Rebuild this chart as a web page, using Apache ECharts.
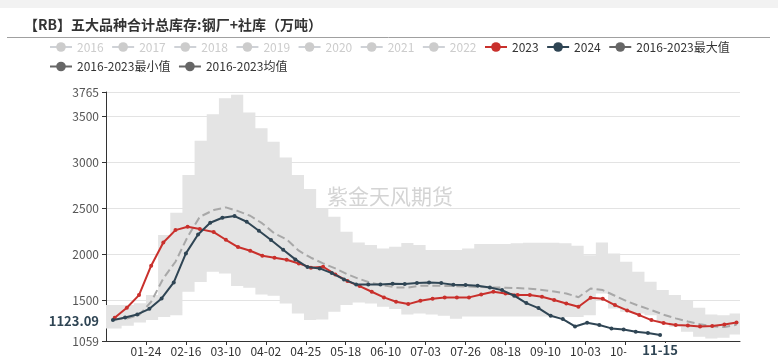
<!DOCTYPE html>
<html><head><meta charset="utf-8">
<script src="https://cdn.jsdelivr.net/npm/echarts@6/dist/echarts.min.js"></script>
<style>html,body{margin:0;padding:0;background:#fff}#c{width:778px;height:362px}</style>
</head><body><div id="c"></div>
<script>
// ---- data ----
const titleText = '【RB】五大品种合计总库存:钢厂+社库（万吨）';
const hiddenYears = ['2016','2017','2018','2019','2020','2021','2022'];

const dates2023 = ['01-06','01-13','01-20','01-27','02-03','02-10','02-17','02-24','03-03','03-10','03-17','03-24','03-31',
  '04-07','04-14','04-21','04-28','05-05','05-12','05-19','05-26','06-02','06-09','06-16','06-23','06-30',
  '07-07','07-14','07-21','07-28','08-04','08-11','08-18','08-25','09-01','09-08','09-15','09-22','09-29',
  '10-06','10-13','10-20','10-27','11-03','11-10','11-17','11-24','12-01','12-08','12-15','12-22','12-29'];
const values2023 = [1312,1420,1558,1877,2130,2264,2300,2275,2243,2159,2080,2040,1985,
  1964,1942,1902,1855,1866,1783,1710,1656,1594,1533,1486,1460,1496,
  1518,1533,1533,1533,1565,1594,1576,1558,1558,1540,1504,1467,1431,
  1529,1518,1449,1391,1341,1286,1254,1232,1228,1217,1221,1239,1261];

const dates2024 = ['01-05','01-12','01-19','01-26','02-02','02-09','02-16','02-23','03-01','03-08','03-15','03-22','03-29',
  '04-05','04-12','04-19','04-26','05-03','05-10','05-17','05-24','05-31','06-07','06-14','06-21','06-28',
  '07-05','07-12','07-19','07-26','08-02','08-09','08-16','08-23','08-30','09-06','09-13','09-20','09-27',
  '10-04','10-11','10-18','10-25','11-01','11-08','11-15'];
const values2024 = [1286,1315,1348,1409,1522,1696,2011,2217,2344,2398,2417,2355,2257,
  2156,2051,1946,1862,1848,1797,1728,1674,1674,1674,1681,1678,1688,
  1696,1688,1670,1667,1659,1641,1612,1551,1471,1417,1333,1297,1217,
  1257,1232,1196,1185,1159,1145,1123.09];

const meanDates = dates2023;
const meanValues = [1293,1304,1340,1486,1739,1920,2192,2409,2482,2511,2471,2420,2337,
  2228,2163,2040,1964,1902,1848,1783,1732,1688,1663,1641,1641,1660,
  1660,1658,1655,1650,1645,1641,1638,1634,1628,1614,1598,1575,1535,
  1630,1612,1551,1490,1440,1395,1345,1305,1270,1240,1220,1210,1235];

const bandDates = ['01-01','01-03','01-10','01-17','01-24','01-31','02-07','02-14','02-21','02-28','03-06','03-13','03-20','03-27',
  '04-03','04-10','04-17','04-24','05-01','05-08','05-15','05-22','05-29','06-05','06-12','06-19','06-26',
  '07-03','07-10','07-17','07-24','07-31','08-07','08-14','08-21','08-28','09-04','09-11','09-18','09-25',
  '10-02','10-09','10-16','10-23','10-30','11-06','11-13','11-20','11-27','12-04','12-11','12-18','12-25','12-31'];
const bandMax = [1449,1449,1449,1470,1560,2210,2453,2862,3235,3522,3696,3735,3543,3370,
  3225,3054,2862,2710,2500,2409,2246,2130,2101,2065,2083,2123,2101,
  2047,2047,2047,2065,2112,2112,2112,2120,2126,2126,2126,2120,2094,
  1992,2130,2011,1920,1811,1702,1612,1558,1503,1420,1348,1340,1359,1406];
const bandMin = [1196,1196,1225,1261,1286,1320,1340,1594,1700,1812,1793,1656,1638,1565,
  1551,1467,1359,1286,1293,1377,1449,1478,1467,1431,1406,1348,1359,
  1348,1333,1300,1325,1325,1325,1325,1325,1325,1325,1325,1320,1320,
  1340,1576,1413,1377,1359,1340,1268,1213,1159,1104,1087,1094,1130,1130];

const yMin = 1059, yMax = 3765;
const pointerDate = '11-15';

// ---- build ----
const categories = [];
(function(){ const d = new Date(Date.UTC(2024,0,1));
  for (let i=0;i<366;i++){ categories.push(String(d.getUTCMonth()+1).padStart(2,'0')+'-'+String(d.getUTCDate()).padStart(2,'0')); d.setUTCDate(d.getUTCDate()+1);} })();
const pairs = (ds, vs) => ds.map((d,i)=>[d, vs[i]]);
const labelInterval = (i) => i % 23 === 0 && i > 0 && i < 340;
const FONT = "'Noto Sans CJK SC', 'Noto Sans', sans-serif";
const bandIdx = bandDates.map(d => categories.indexOf(d));

const series = [];
hiddenYears.forEach(y => series.push({name:y, type:'line', data:[], symbol:'circle', itemStyle:{color:'#ccc'}}));
// min-max band, stepped per week, drawn through the axes' scales
series.push({name:'band', type:'custom', data: [[bandIdx[0], bandMin[0]]], silent:true, z:1,
  renderItem: function(params, api){
    const top = [], bot = [];
    for (let k = 0; k < bandIdx.length - 1; k++) {
      top.push(api.coord([bandIdx[k], bandMax[k]]), api.coord([bandIdx[k+1], bandMax[k]]));
      bot.push(api.coord([bandIdx[k], bandMin[k]]), api.coord([bandIdx[k+1], bandMin[k]]));
    }
    return {type:'polygon', shape:{points: top.concat(bot.reverse())}, style:{fill:'#e4e4e4'}};
  }});
// legend entries for the band edges
series.push({name:'2016-2023最大值', type:'line', symbol:'circle', data:[], itemStyle:{color:'#666'}, lineStyle:{color:'#666'}});
series.push({name:'2016-2023最小值', type:'line', symbol:'circle', data:[], itemStyle:{color:'#666'}, lineStyle:{color:'#666'}});
series.push({name:'2016-2023均值', type:'line', symbol:'circle', showSymbol:false, data: pairs(meanDates, meanValues),
  itemStyle:{color:'#666'}, lineStyle:{color:'#a8a8a8', type:'dashed', width:2}, z:2});
series.push({name:'2023', type:'line', symbol:'circle', symbolSize:4, showAllSymbol:true, data: pairs(dates2023, values2023),
  itemStyle:{color:'#c9302c'}, lineStyle:{width:2}, z:3});
series.push({name:'2024', type:'line', symbol:'circle', symbolSize:4, showAllSymbol:true, data: pairs(dates2024, values2024),
  itemStyle:{color:'#2f4554'}, lineStyle:{width:2}, z:4});

const legendNames = hiddenYears.concat(['2023','2024','2016-2023最大值','2016-2023最小值','2016-2023均值']);
const selected = {}; hiddenYears.forEach(y => selected[y] = false);
const legendData = legendNames.map(n => n.indexOf('2016-2023') === 0
  ? {name:n, lineStyle:{width:2, color:'#666', type:'solid', opacity:1}} : {name:n});

const option = {
  animation: false,
  textStyle: {fontFamily: FONT},
  title: {text: titleText, left: 19, top: 13, textStyle:{fontSize:14, fontWeight:'bold', color:'#333', fontFamily: FONT}},
  graphic: [
    {type:'rect', left:0, top:0, shape:{width:778, height:8}, style:{fill:'#f2f2f2'}, silent:true},
    {type:'line', shape:{x1:7, y1:37.5, x2:770, y2:37.5}, style:{stroke:'#a0a0a0', lineWidth:1}, silent:true},
    {type:'text', left:327, top:186, style:{text:'紫金天风期货', fill:'#d4d4d4', font:"21px 'Noto Sans CJK SC'"}, silent:true, z:0}
  ],
  legend: {left:44, top:36, itemWidth:22, itemHeight:12, itemGap:7.5, textStyle:{fontSize:12, color:'#333'},
    inactiveColor:'#ccc', selected: selected, data: legendData},
  grid: {left:106, right:38, top:92, bottom:21, containLabel:false},
  xAxis: {type:'category', data: categories, boundaryGap:false,
    axisLine:{lineStyle:{color:'#333'}},
    axisTick:{interval: labelInterval, length:4, lineStyle:{color:'#333'}},
    axisLabel:{interval: labelInterval, margin:4, color:'#333', fontSize:12},
    splitLine:{show:false},
    axisPointer:{show:true, type:'none', status:'show', value: categories.indexOf(pointerDate), triggerTooltip:false,
      label:{show:true, margin:2, backgroundColor:'#fff', color:'#2f4554', fontWeight:'bold', fontSize:13, padding:[1,16,1,16]}}},
  yAxis: {type:'value', min:yMin, max:yMax, splitNumber:5,
    axisLine:{show:true, lineStyle:{color:'#333'}},
    axisTick:{show:true, length:4, lineStyle:{color:'#333'}},
    axisLabel:{color:'#555', fontSize:12, margin:7, formatter: v => String(v)},
    splitLine:{lineStyle:{color:'#e3e3e3'}},
    axisPointer:{show:true, type:'none', status:'show', value: values2024[values2024.length-1], triggerTooltip:false,
      label:{show:true, margin:3, backgroundColor:'transparent', color:'#2f4554', fontWeight:'bold', fontSize:13,
        padding:[0,4,28,4], formatter: p => Number(p.value).toFixed(2)}}},
  series: series
};
const chart = echarts.init(document.getElementById('c'), null, {renderer:'canvas'});
chart.setOption(option);
</script></body></html>
